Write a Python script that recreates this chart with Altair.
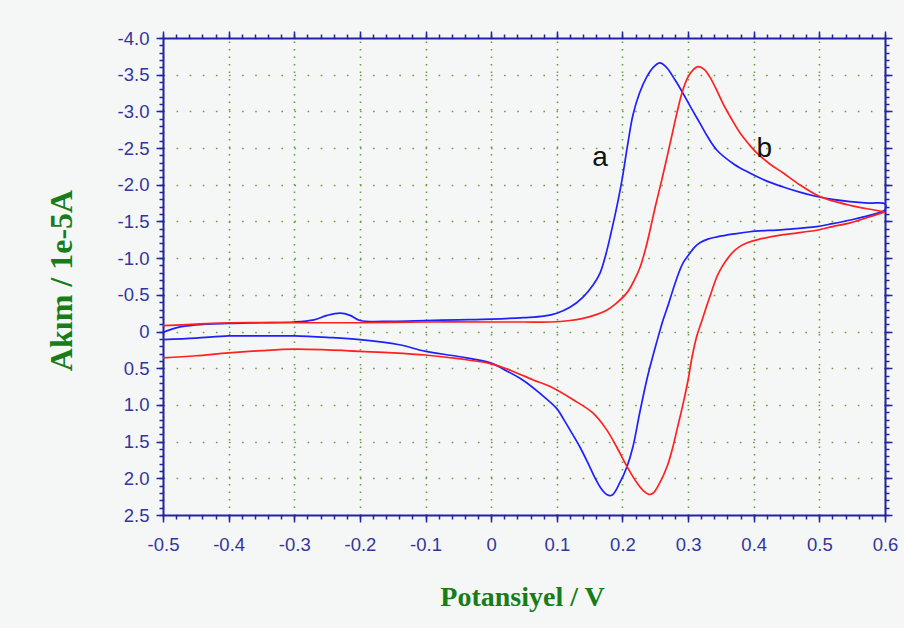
import altair as alt
import pandas as pd

# ---------------- data: cyclic voltammograms ----------------
# curve a (blue): anodic sweep -0.5 -> 0.6 V, then cathodic sweep back
a_fwd_E = [-0.50, -0.48, -0.45, -0.40, -0.35, -0.30, -0.27, -0.25, -0.23, -0.215,
           -0.20, -0.15, -0.10, -0.05, 0.00, 0.05, 0.08, 0.10, 0.12, 0.14,
           0.155, 0.166, 0.175, 0.183, 0.19, 0.199, 0.208, 0.216, 0.226, 0.237,
           0.247, 0.257, 0.267, 0.28, 0.292, 0.305, 0.318, 0.33, 0.344, 0.37,
           0.394, 0.42, 0.445, 0.47, 0.496, 0.52, 0.547, 0.575, 0.60]
a_fwd_I = [0.01, -0.05, -0.09, -0.11, -0.12, -0.13, -0.16, -0.22, -0.25, -0.22,
           -0.15, -0.14, -0.15, -0.16, -0.17, -0.19, -0.21, -0.25, -0.33, -0.47,
           -0.63, -0.80, -1.06, -1.36, -1.64, -2.05, -2.55, -2.95, -3.25, -3.47,
           -3.60, -3.66, -3.60, -3.43, -3.25, -3.04, -2.84, -2.65, -2.47, -2.28,
           -2.16, -2.05, -1.97, -1.90, -1.84, -1.80, -1.77, -1.75, -1.74]
a_rev_E = [0.60, 0.575, 0.547, 0.52, 0.496, 0.445, 0.394, 0.37, 0.344, 0.33,
           0.318, 0.31, 0.303, 0.292, 0.285, 0.277, 0.27, 0.262, 0.252, 0.242,
           0.237, 0.226, 0.216, 0.207, 0.196, 0.184, 0.176, 0.166, 0.158, 0.15,
           0.135, 0.12, 0.11, 0.10, 0.074, 0.048, 0.02, 0.00, -0.05, -0.10, -0.14,
           -0.20, -0.25, -0.30, -0.35, -0.40, -0.45, -0.50]
a_rev_I = [-1.66, -1.58, -1.52, -1.47, -1.43, -1.39, -1.36, -1.33, -1.29, -1.26,
           -1.21, -1.15, -1.07, -0.93, -0.78, -0.57, -0.37, -0.16, 0.15, 0.48,
           0.66, 1.12, 1.57, 1.84, 2.06, 2.23, 2.22, 2.12, 1.99, 1.84,
           1.57, 1.34, 1.19, 1.05, 0.84, 0.66, 0.52, 0.43, 0.34, 0.27, 0.18,
           0.11, 0.08, 0.06, 0.06, 0.06, 0.09, 0.11]

# curve b (red)
b_fwd_E = [-0.50, -0.45, -0.40, -0.30, -0.20, -0.10, 0.00, 0.05, 0.09, 0.12,
           0.14, 0.16, 0.176, 0.19, 0.207, 0.218, 0.227, 0.235, 0.242, 0.25,
           0.26, 0.268, 0.276, 0.283, 0.292, 0.30, 0.308, 0.315, 0.325, 0.333,
           0.343, 0.353, 0.366, 0.379, 0.392, 0.405, 0.425, 0.445, 0.47, 0.496,
           0.52, 0.547, 0.575, 0.60]
b_fwd_I = [-0.08, -0.10, -0.12, -0.12, -0.12, -0.13, -0.13, -0.13, -0.13, -0.15,
           -0.18, -0.23, -0.29, -0.38, -0.53, -0.70, -0.88, -1.12, -1.38, -1.70,
           -2.07, -2.38, -2.70, -2.98, -3.29, -3.47, -3.57, -3.61, -3.57, -3.47,
           -3.30, -3.11, -2.90, -2.71, -2.56, -2.43, -2.28, -2.16, -2.00, -1.86,
           -1.78, -1.72, -1.67, -1.63]
b_rev_E = [0.60, 0.572, 0.547, 0.52, 0.496, 0.445, 0.405, 0.39, 0.379, 0.368,
           0.359, 0.351, 0.344, 0.336, 0.328, 0.32, 0.313, 0.306, 0.30, 0.292,
           0.283, 0.276, 0.268, 0.257, 0.247, 0.24, 0.232, 0.222, 0.207, 0.191,
           0.176, 0.155, 0.125, 0.09, 0.064, 0.03, 0.00, -0.05, -0.10, -0.15,
           -0.20, -0.25, -0.30, -0.35, -0.40, -0.45, -0.50]
b_rev_I = [-1.63, -1.55, -1.48, -1.43, -1.38, -1.32, -1.25, -1.21, -1.16, -1.08,
           -0.98, -0.87, -0.75, -0.55, -0.34, -0.12, 0.07, 0.35, 0.66, 1.00,
           1.34, 1.60, 1.84, 2.06, 2.20, 2.22, 2.17, 2.06, 1.84, 1.57,
           1.34, 1.11, 0.93, 0.75, 0.66, 0.53, 0.44, 0.37, 0.32, 0.29,
           0.27, 0.25, 0.24, 0.26, 0.29, 0.33, 0.36]

# curve labels
label_text = ["a", "b"]
label_E = [0.166, 0.416]
label_I = [-2.25, -2.38]

# axis ticks
x_major = [-0.5, -0.4, -0.3, -0.2, -0.1, 0.0, 0.1, 0.2, 0.3, 0.4, 0.5, 0.6]
y_major = [-4.0, -3.5, -3.0, -2.5, -2.0, -1.5, -1.0, -0.5, 0.0, 0.5, 1.0, 1.5, 2.0, 2.5]
x_minor = [round(-0.5 + 0.02 * i, 2) for i in range(56)]
y_minor = [round(-4.0 + 0.1 * i, 1) for i in range(66)]

# ---------------- table ----------------
rows = []
for name, segs in (("a", [(a_fwd_E, a_fwd_I), (a_rev_E, a_rev_I)]),
                   ("b", [(b_fwd_E, b_fwd_I), (b_rev_E, b_rev_I)])):
    step = 0
    for es, cur in segs:
        for e, i in zip(es, cur):
            rows.append({"curve": name, "E": e, "I": i, "step": step})
            step += 1
df = pd.DataFrame(rows)
labels = pd.DataFrame({"text": label_text, "E": label_E, "I": label_I})

# ---------------- styling ----------------
AXIS = "#2323a3"
LABEL = "#34349e"
GRID = "#6b9f3e"
TITLE = "#187d18"
TICK_FONT = "Liberation Sans, Arial, sans-serif"
TITLE_FONT = "Liberation Serif, Times New Roman, serif"
# plain hyphen for negatives, bare "0" at the origin
LBL_EXPR = ("datum.value == 0 ? '0' : (datum.value < 0 ? '-' + format(-datum.value, '.1f')"
            " : format(datum.value, '.1f'))")

xs = alt.Scale(domain=[-0.5, 0.6], nice=False, zero=False)
ys = alt.Scale(domain=[-4.0, 2.5], reverse=True, nice=False, zero=False)

common = dict(domainColor=AXIS, domainWidth=2, tickColor=AXIS, tickWidth=1.5,
              labelOverlap=False, labelFlush=False, labelBound=False)


def major_axis(orient, values, labels_on, **kw):
    opts = dict(common)
    opts.update(orient=orient, values=values, tickSize=7, domain=True, title="")
    if labels_on:
        opts.update(labels=True, labelExpr=LBL_EXPR, labelFont=TICK_FONT,
                    labelFontSize=18.5, labelColor=LABEL)
    else:
        opts.update(labels=False)
    opts.update(kw)
    return alt.Axis(**opts)


def minor_axis(orient, values):
    opts = dict(common)
    opts.update(orient=orient, values=values, tickSize=4, domain=False,
                labels=False, grid=False, title="")
    return alt.Axis(**opts)


x_bottom = major_axis(
    "bottom", x_major, True, labelPadding=13, grid=True, gridColor=GRID,
    gridDash=[1.6, 5.9], gridWidth=1.6,
    title="Potansiyel / V", titleFont=TITLE_FONT, titleFontSize=28,
    titleFontWeight="bold", titleColor=TITLE, titleX=359, titleY=90,
    titleBaseline="alphabetic", titleAlign="center")
y_left = major_axis(
    "left", y_major, True, labelPadding=7, grid=True, gridColor=GRID,
    gridDash=[1.6, 11.5], gridWidth=1.6,
    title="Akım / 1e-5A", titleFont=TITLE_FONT, titleFontSize=32,
    titleFontWeight="bold", titleColor=TITLE, titleX=-102, titleY=242,
    titleAngle=270, titleBaseline="middle", titleAlign="center")

curves = alt.Chart(df).mark_line(strokeWidth=1.7, interpolate="catmull-rom").encode(
    x=alt.X("E:Q", scale=xs, axis=x_bottom),
    y=alt.Y("I:Q", scale=ys, axis=y_left),
    color=alt.Color("curve:N", scale=alt.Scale(domain=["a", "b"],
                                               range=["#1f1fff", "#ff2020"]),
                    legend=None),
    order="step:Q",
)


def frame_layer(xa, ya):
    return alt.Chart(df).mark_point(opacity=0).encode(
        x=alt.X("E:Q", scale=xs, axis=xa),
        y=alt.Y("I:Q", scale=ys, axis=ya),
    )


minor_bl = frame_layer(minor_axis("bottom", x_minor), minor_axis("left", y_minor))
major_tr = frame_layer(major_axis("top", x_major, False, grid=False),
                       major_axis("right", y_major, False, grid=False))
minor_tr = frame_layer(minor_axis("top", x_minor), minor_axis("right", y_minor))

text = alt.Chart(labels).mark_text(
    font="Liberation Sans, Arial, sans-serif", fontSize=28, color="#111111",
    align="center", baseline="alphabetic"
).encode(
    x=alt.X("E:Q", scale=xs, axis=None),
    y=alt.Y("I:Q", scale=ys, axis=None),
    text="text:N",
)

chart = alt.layer(curves, minor_bl, major_tr, minor_tr, text).resolve_axis(
    x="independent", y="independent"
).properties(
    width=722, height=477,
    autosize=alt.AutoSizeParams(type="none"),
    padding={"left": 163, "top": 38, "right": 19, "bottom": 113},
    background="#f5f7f7",
).configure_view(stroke="transparent")

chart.save("out.html", embed_options={"renderer": "svg", "actions": False})
